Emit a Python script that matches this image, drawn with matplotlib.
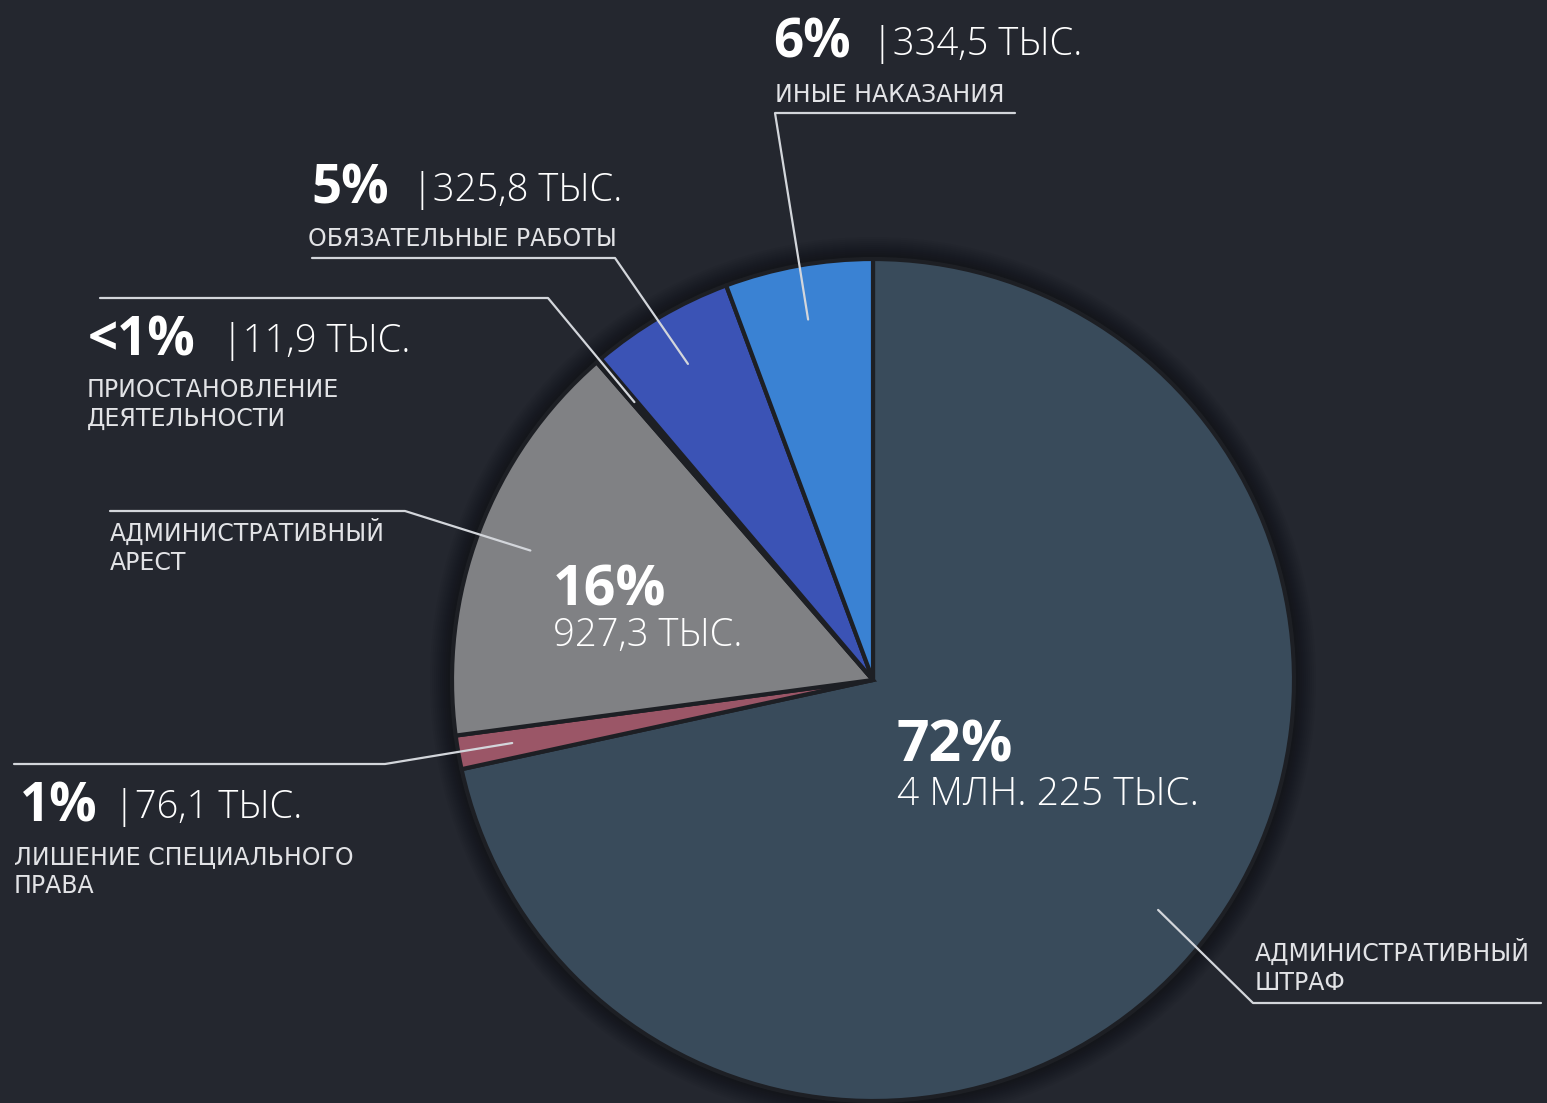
import numpy as np
import matplotlib
matplotlib.use("Agg")
import matplotlib.pyplot as plt
from matplotlib.patches import Circle

plt.rcParams["font.family"] = ["Open Sans", "DejaVu Sans"]

# данные (тыс. наказаний), по часовой стрелке от верха
categories = ["Административный штраф", "Лишение специального права", "Административный арест",
              "Приостановление деятельности", "Обязательные работы", "Иные наказания"]
values = [4225.0, 76.1, 927.3, 11.9, 325.8, 334.5]
pct_labels = ["72%", "1%", "16%", "<1%", "5%", "6%"]
num_labels = ["4 МЛН. 225 ТЫС.", "|76,1 ТЫС.", "927,3 ТЫС.", "|11,9 ТЫС.", "|325,8 ТЫС.", "|334,5 ТЫС."]
captions = [["АДМИНИСТРАТИВНЫЙ", "ШТРАФ"], ["ЛИШЕНИЕ СПЕЦИАЛЬНОГО", "ПРАВА"],
            ["АДМИНИСТРАТИВНЫЙ", "АРЕСТ"], ["ПРИОСТАНОВЛЕНИЕ", "ДЕЯТЕЛЬНОСТИ"],
            ["ОБЯЗАТЕЛЬНЫЕ РАБОТЫ"], ["ИНЫЕ НАКАЗАНИЯ"]]
colors = ["#394b5b", "#9b5667", "#808184", "#1d1f24", "#3b53b5", "#3a82d3"]

BG = "#24272f"
W, H = 1547, 1103
CX, CY, R = 873, H - 680, 421

fig = plt.figure(figsize=(W / 100, H / 100), dpi=100, facecolor=BG)
ax = fig.add_axes([0, 0, 1, 1])
ax.set_facecolor(BG)

# мягкая тень вокруг круга
for k in range(12):
    ax.add_patch(Circle((CX, CY), R + 22 - k * 2, color="black", alpha=0.04, zorder=0, lw=0))

wedges, _ = ax.pie(values, colors=colors, startangle=90, counterclock=False,
                   center=(CX, CY), radius=R,
                   wedgeprops=dict(edgecolor="#1d1f24", linewidth=3))
for w in wedges:
    w.set_zorder(2)

ax.set_xlim(0, W)
ax.set_ylim(0, H)
ax.set_aspect("equal")
ax.axis("off")


def tip(i, frac=0.87):
    t = np.deg2rad((wedges[i].theta1 + wedges[i].theta2) / 2)
    return CX + frac * R * np.cos(t), CY + frac * R * np.sin(t)


LINE = "#d3d6db"


def leader(i, elbow, x_far):
    tx, ty = tip(i)
    ex, ey = elbow[0], H - elbow[1]
    ax.plot([tx, ex, x_far], [ty, ey, ey], color=LINE, lw=1.6, zorder=5,
            solid_capstyle="round", solid_joinstyle="round")


def txt(x, y, s, size, weight="normal", color="white"):
    ax.text(x, H - y, s, fontsize=size, fontweight=weight, color=color,
            ha="left", va="baseline", zorder=6)


def cap(x, y, lines):
    for j, s in enumerate(lines):
        ax.text(x, H - (y + 29 * j), s, fontsize=17, family=["DejaVu Sans"],
                color="#e2e3e6", ha="left", va="baseline", zorder=6)


PCT = 38
NUM = 27.5

# иные наказания
txt(773, 57, pct_labels[5], PCT, "bold")
txt(872, 55, num_labels[5], NUM, "light")
cap(775, 102, captions[5])
leader(5, (775, 113), 1015)

# обязательные работы
txt(311, 203, pct_labels[4], PCT, "bold")
txt(412, 201, num_labels[4], NUM, "light")
cap(308, 246, captions[4])
leader(4, (615, 258), 312)

# приостановление деятельности
txt(88, 355, pct_labels[3], PCT, "bold")
txt(222, 352, num_labels[3], NUM, "light")
cap(87, 397, captions[3])
leader(3, (548, 298), 100)

# административный арест
cap(110, 541, captions[2])
leader(2, (405, 511), 110)
txt(553, 605, pct_labels[2], PCT + 2, "bold")
txt(553, 646, num_labels[2], NUM, "light")

# лишение специального права
leader(1, (385, 764), 14)
txt(20, 822, pct_labels[1], PCT, "bold")
txt(114, 818, num_labels[1], NUM, "light")
cap(14, 864, captions[1])

# административный штраф
txt(897, 762, pct_labels[0], PCT + 3, "bold")
txt(897, 805, num_labels[0], NUM + 0.5, "light")
cap(1255, 961, captions[0])
leader(0, (1253, 1003), 1541)

fig.savefig("out.png", dpi=100, facecolor=BG)
